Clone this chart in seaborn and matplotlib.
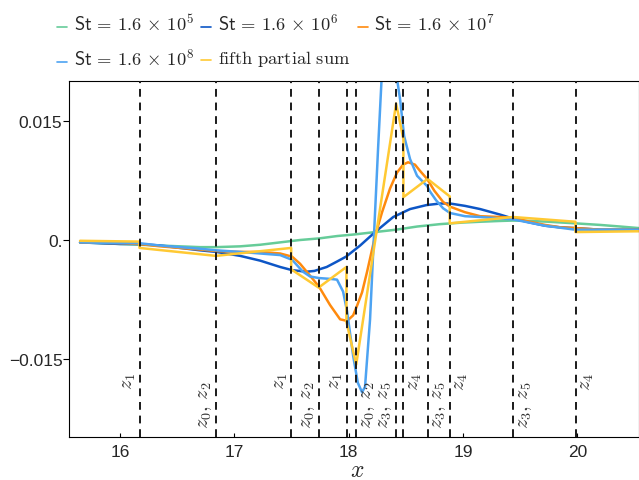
import matplotlib
matplotlib.use("Agg")
import matplotlib.pyplot as plt
import seaborn as sns
from matplotlib.legend_handler import HandlerLine2D
from matplotlib.lines import Line2D

# ---------------- data ----------------
st5_x = [15.65, 16.0, 16.35, 16.70, 16.84, 17.05, 17.225, 17.40, 17.575, 17.741, 17.90, 18.05,
         18.231, 18.415, 18.60, 18.80, 19.0, 19.15, 19.325, 19.438, 19.60, 19.75, 19.981, 20.2, 20.374, 20.54]
st5_y = [-0.0003, -0.0005, -0.0007, -0.0009, -0.0009, -0.0008, -0.0006, -0.0003, 0.0000, 0.0002, 0.0005, 0.0007,
         0.0010, 0.0013, 0.0017, 0.0020, 0.0022, 0.0023, 0.0024, 0.00245, 0.0024, 0.0023, 0.0021, 0.0019, 0.0017, 0.0015]

st6_x = [15.65, 16.0, 16.166, 16.35, 16.525, 16.70, 16.84, 17.05, 17.225, 17.40, 17.505, 17.63, 17.70,
         17.808, 17.90, 17.977, 18.10, 18.231, 18.39, 18.537, 18.68, 18.80, 18.887, 19.018, 19.15, 19.325,
         19.438, 19.587, 19.718, 19.85, 19.981, 20.2, 20.54]
st6_y = [-0.0003, -0.0005, -0.0005, -0.0007, -0.0010, -0.0013, -0.0015, -0.0020, -0.0026, -0.0034, -0.0038, -0.0040, -0.0039,
         -0.0034, -0.0027, -0.0021, -0.0007, 0.0010, 0.0029, 0.0039, 0.0044, 0.0046, 0.0046, 0.0043, 0.0039, 0.0032,
         0.0027, 0.0022, 0.0018, 0.0016, 0.0015, 0.0013, 0.0013]

st7_x = [15.65, 16.0, 16.166, 16.35, 16.525, 16.70, 16.84, 17.05, 17.225, 17.40, 17.505, 17.575, 17.662,
         17.741, 17.837, 17.925, 17.986, 18.039, 18.073, 18.117, 18.161, 18.231, 18.292, 18.362, 18.423,
         18.476, 18.52, 18.58, 18.625, 18.686, 18.75, 18.826, 18.887, 19.018, 19.15, 19.325, 19.438, 19.587,
         19.718, 19.85, 19.981, 20.2, 20.54]
st7_y = [-0.0003, -0.0004, -0.0005, -0.0008, -0.0010, -0.0012, -0.0014, -0.0015, -0.0015, -0.0017, -0.0021, -0.0030, -0.0045,
         -0.0059, -0.0082, -0.0100, -0.0102, -0.0095, -0.0083, -0.0066, -0.0040, 0.0005, 0.0035, 0.0065, 0.0085,
         0.0095, 0.0098, 0.0095, 0.0087, 0.0077, 0.0062, 0.0048, 0.0042, 0.0035, 0.0030, 0.0029, 0.0028, 0.0023,
         0.0019, 0.0016, 0.0015, 0.0013, 0.0013]

st8_x = [15.65, 16.0, 16.166, 16.35, 16.525, 16.70, 16.84, 17.05, 17.225, 17.40, 17.505, 17.60, 17.662,
         17.741, 17.837, 17.898, 17.951, 17.986, 18.039, 18.08, 18.117, 18.143, 18.187, 18.222, 18.257,
         18.292, 18.35, 18.40, 18.423, 18.45, 18.485, 18.537, 18.598, 18.686, 18.712, 18.765, 18.826,
         18.887, 19.018, 19.15, 19.438, 19.718, 19.981, 20.2, 20.54]
st8_y = [-0.0003, -0.0004, -0.0004, -0.0007, -0.0009, -0.0011, -0.0013, -0.0015, -0.0017, -0.0019, -0.0025, -0.0040, -0.0046,
         -0.0048, -0.0049, -0.0050, -0.0065, -0.0090, -0.0146, -0.0180, -0.0192, -0.0185, -0.0100, 0.0008, 0.0115,
         0.0215, 0.0300, 0.0250, 0.0203, 0.0177, 0.0131, 0.0102, 0.0081, 0.0068, 0.0061, 0.0050, 0.0040,
         0.0034, 0.0030, 0.0029, 0.0026, 0.0018, 0.0013, 0.0013, 0.0013]

sum5_x = [15.65, 16.170, 16.170, 16.838, 17.497, 17.497, 17.737, 17.980, 17.980, 18.066, 18.415, 18.479,
          18.479, 18.690, 18.884, 18.884, 19.437, 19.984, 19.984, 20.54]
sum5_y = [-0.0001, -0.0002, -0.0010, -0.0020, -0.0010, -0.0037, -0.0060, -0.0034, -0.0103, -0.0157, 0.0172, 0.0127,
          0.0054, 0.0077, 0.0055, 0.0021, 0.0029, 0.0023, 0.0010, 0.0011]

z_positions = [16.175, 16.838, 17.498, 17.737, 17.982, 18.063, 18.415, 18.479, 18.690, 18.884, 19.437, 19.986]
z_labels = [r"$z_1$", r"$z_0,\, z_2$", r"$z_1$", r"$z_0,\, z_2$", r"$z_1$", r"$z_0,\, z_2$",
            r"$z_3,\, z_5$", r"$z_4$", r"$z_3,\, z_5$", r"$z_4$", r"$z_3,\, z_5$", r"$z_4$"]
z_sides = ["left", "left", "left", "left", "left", "right", "left", "right", "right", "right", "right", "right"]

series_labels = [r"$\mathsf{St}\,=\,1.6\,\times\,10^{5}$", r"$\mathsf{St}\,=\,1.6\,\times\,10^{6}$",
                 r"$\mathsf{St}\,=\,1.6\,\times\,10^{7}$", r"$\mathsf{St}\,=\,1.6\,\times\,10^{8}$",
                 r"$\mathrm{fifth\ partial\ sum}$"]
series_colors = ["#66cc99", "#0d56c6", "#ff8a0d", "#4da3f2", "#ffc933"]

x_ticks = [16, 17, 18, 19, 20]
y_ticks = [-0.015, 0.0, 0.015]
y_tick_labels = ["\u22120.015", "0.", "0.015"]

# ---------------- style ----------------
sns.set_style("white")
plt.rcParams["font.family"] = ["Liberation Sans", "DejaVu Sans"]
plt.rcParams["mathtext.fontset"] = "cm"

fig = plt.figure(figsize=(6.39, 4.81), dpi=100)
ax = fig.add_axes([0.1085, 0.0900, 0.8908, 0.7401])

xs = [st5_x, st6_x, st7_x, st8_x, sum5_x]
ys = [st5_y, st6_y, st7_y, st8_y, sum5_y]
for x, y, c, lab in zip(xs, ys, series_colors, series_labels):
    sns.lineplot(x=x, y=y, color=c, lw=1.8, sort=False, estimator=None, ax=ax, label=lab, zorder=2)

for zx, lab, side in zip(z_positions, z_labels, z_sides):
    ax.axvline(zx, color="#1a1a1a", lw=1.4, dashes=(4, 3), zorder=3)
    single = "," not in lab
    ytop = -0.01664 if single else -0.01777
    off = -1.2 if side == "left" else 1.2
    ax.annotate(lab, xy=(zx, ytop), xytext=(off, 0), textcoords="offset points",
                rotation=90, ha="right" if side == "left" else "left", va="top",
                fontsize=14.5, color="#333333", zorder=4)

ax.set_xlim(15.556, 20.536)
ax.set_ylim(-0.0248, 0.02008)
ax.set_xticks(x_ticks)
ax.set_xticklabels([str(t) for t in x_ticks])
ax.set_yticks(y_ticks)
ax.set_yticklabels(y_tick_labels)
ax.tick_params(axis="x", direction="in", length=3, width=0.8, labelsize=12.5, pad=5, color="black")
ax.tick_params(axis="y", direction="out", length=4, width=0.8, labelsize=12.5, pad=1, color="black", left=True)
ax.tick_params(axis="x", bottom=True)
for s in ax.spines.values():
    s.set_color("black")
    s.set_linewidth(0.8)
ax.set_xlabel(r"$x$", fontsize=17)
ax.xaxis.set_label_coords(0.505, -0.062)
ax.xaxis.label.set_va("top")
ax.set_ylabel("")


class LowLine(HandlerLine2D):
    def create_artists(self, legend, orig_handle, xdescent, ydescent, width, height, fontsize, trans):
        arts = super().create_artists(legend, orig_handle, xdescent, ydescent, width, height, fontsize, trans)
        for a in arts:
            if isinstance(a, Line2D):
                a.set_ydata([v - 0.3 * height for v in a.get_ydata()])
                a.set_linewidth(1.2)
        return arts


handles, labels = ax.get_legend_handles_labels()
ax.get_legend().remove()
order = [0, 3, 1, 4, 2]
leg = fig.legend([handles[i] for i in order], [labels[i] for i in order], ncol=3,
                 loc="upper left", bbox_to_anchor=(57 / 639, 1 - 14 / 481), frameon=False,
                 fontsize=13.3, handlelength=0.55, handletextpad=0.35, columnspacing=0.4,
                 labelspacing=0.75, borderpad=0, borderaxespad=0,
                 handler_map={Line2D: LowLine()})

fig.savefig("out.png", dpi=100)
